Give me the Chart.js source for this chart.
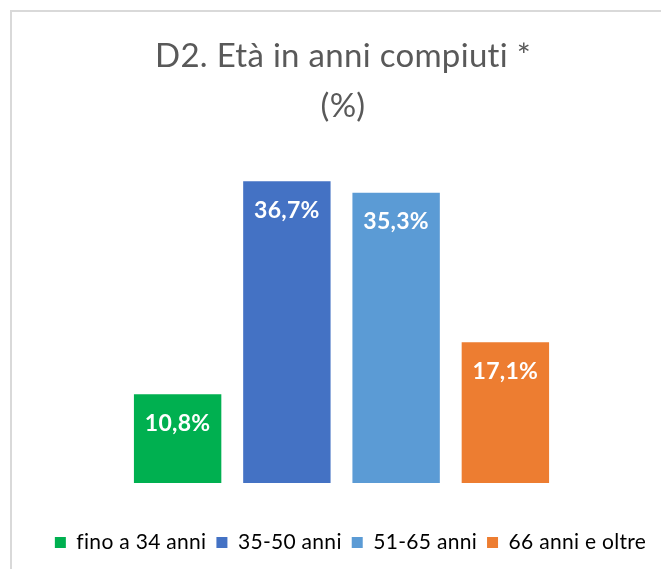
<!DOCTYPE html>
<html>
<head>
<meta charset="utf-8">
<script src="https://cdn.jsdelivr.net/npm/chart.js@4/dist/chart.umd.min.js"></script>
<style>
  body { margin: 0; background: #fff; overflow: hidden; }
  #wrap { position: relative; width: 661px; height: 569px; }
  #frame { position: absolute; left: 10px; top: 10px; width: 700px; height: 600px; border: 2px solid #d9d9d9; }
  canvas { position: absolute; left: 0; top: 0; }
</style>
</head>
<body>
<div id="wrap">
  <div id="frame"></div>
  <canvas id="chart" width="661" height="569"></canvas>
</div>
<script>
const categories = ['fino a 34 anni', '35-50 anni', '51-65 anni', '66 anni e oltre'];
const values = [10.8, 36.7, 35.3, 17.1];
const barColors = ['#00B050', '#4472C4', '#5B9BD5', '#ED7D31'];
const titleLines = ['D2. Età in anni compiuti *', '(%)'];

const fontFamily = 'Lato, Carlito, Calibri, sans-serif';

// small letter spacing: closer to the Calibri widths and no "fi" ligature
const spacing = {
    id: 'spacing',
    beforeDraw(chart) {
        chart.ctx.letterSpacing = '0.3px';
    }
};

// white labels inside the top of each bar
const barLabels = {
    id: 'barLabels',
    afterDatasetsDraw(chart) {
        const ctx = chart.ctx;
        const meta = chart.getDatasetMeta(0);
        ctx.save();
        ctx.fillStyle = '#ffffff';
        ctx.font = 'bold 23px ' + fontFamily;
        ctx.textAlign = 'center';
        ctx.textBaseline = 'middle';
        meta.data.forEach((bar, i) => {
            const txt = values[i].toFixed(1).replace('.', ',') + '%';
            ctx.fillText(txt, bar.x, bar.y + 29);
        });
        ctx.restore();
    }
};

new Chart(document.getElementById('chart'), {
    type: 'bar',
    data: {
        labels: categories,
        datasets: [{
            data: values,
            backgroundColor: barColors,
            borderWidth: 0,
            categoryPercentage: 1,
            barPercentage: 0.8
        }]
    },
    options: {
        responsive: false,
        animation: false,
        layout: { padding: { left: 25, right: 0, top: 0, bottom: 6 } },
        plugins: {
            title: {
                display: true,
                text: titleLines,
                color: '#595959',
                font: { family: fontFamily, size: 33, weight: 'normal', lineHeight: 1.5 },
                padding: { top: 32, bottom: 23 }
            },
            legend: {
                position: 'bottom',
                labels: {
                    color: '#595959',
                    font: { family: fontFamily, size: 21 },
                    boxWidth: 11,
                    boxHeight: 11,
                    padding: 10,
                    generateLabels: () => categories.map((c, i) => ({
                        text: c,
                        fillStyle: barColors[i],
                        strokeStyle: barColors[i],
                        lineWidth: 0,
                        index: i
                    }))
                }
            },
            tooltip: { enabled: false }
        },
        scales: {
            x: {
                display: true,
                grid: { display: false },
                border: { display: false },
                ticks: { display: false },
                afterFit(scale) { scale.height = 39; }
            },
            y: {
                display: true,
                min: 0,
                max: 40,
                grid: { display: false },
                border: { display: false },
                ticks: { display: false },
                afterFit(scale) { scale.width = 98; }
            },
            yRight: {
                type: 'linear',
                position: 'right',
                display: true,
                grid: { display: false },
                border: { display: false },
                ticks: { display: false },
                afterFit(scale) { scale.width = 101; }
            }
        }
    },
    plugins: [spacing, barLabels]
});
</script>
</body>
</html>
